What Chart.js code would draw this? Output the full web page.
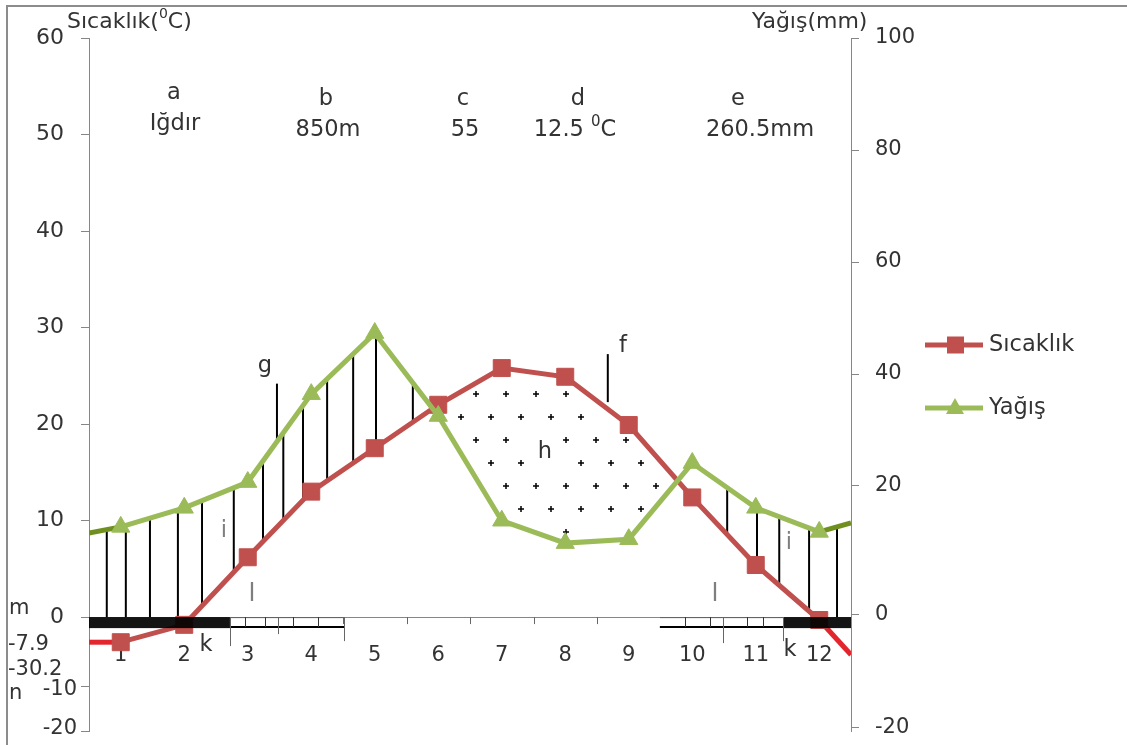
<!DOCTYPE html>
<html>
<head>
<meta charset="utf-8">
<script src="https://cdn.jsdelivr.net/npm/chart.js@4"></script>
<style>
  body { margin: 0; background: #fff; }
  #kutu { width: 1127px; height: 745px; }
</style>
</head>
<body>
<div id="kutu"><canvas id="iklim" width="1127" height="745"></canvas></div>
<script>
const aylar = [1, 2, 3, 4, 5, 6, 7, 8, 9, 10, 11, 12];
const sicaklik = [-2.6, -0.8, 6.2, 13.0, 17.5, 22.0, 25.8, 24.9, 19.9, 12.4, 5.4, -0.3];
const yagis = [12.7, 16.1, 20.7, 36.4, 47.3, 32.5, 13.8, 9.8, 10.5, 24.1, 16.1, 11.8];
// where the two lines leave the plot at the left and right border
const sicaklikKenar = [-2.6, -3.9];
const yagisKenar = [11.6, 13.4];

// axis ticks (the lower ones are placed where the picture shows them)
const solTicks = [60, 50, 40, 30, 20, 10, 0, -7.2, -11.8];
const solEtiket = ['60', '50', '40', '30', '20', '10', '0', '', ''];
const sagTicks = [100, 80, 60, 40, 20, -3, -23.2];
const sagEtiket = ['100', '80', '60', '40', '20', '0', '-20'];

const yaziFont = "'DejaVu Sans', sans-serif";
const yaziRenk = '#333333';
const eksenRenk = '#868686';
const kirmizi = '#c0504d';
const yesil = '#9bbb59';

// decoration positions, in month units
const taramalar = [0.78, 1.08, 1.46, 1.90, 2.28, 2.78, 3.24, 3.56, 3.87, 4.25, 4.66, 5.02, 5.60,
                   10.55, 11.02, 11.37, 11.84, 12.28];
const karaBant = [[0.5, 2.72], [11.43, 12.5]];
const acikBant = [[2.72, 4.52], [9.49, 11.43]];
const bantCizgi = [2.96, 3.27, 3.48, 3.71, 4.11, 9.89, 10.28, 10.86, 11.11];
const uzunCizgi = [[2.72, 29], [3.48, 17], [4.52, 24], [10.48, 26], [11.43, 24]];

function noktalar(degerler, kenar) {
    const p = [{ x: 0.5, y: kenar[0] }];
    aylar.forEach((m, i) => p.push({ x: m, y: degerler[i] }));
    p.push({ x: 12.5, y: kenar[1] });
    return p;
}

function egri(liste, m) {
    for (let i = 0; i < liste.length - 1; i++) {
        const a = liste[i], b = liste[i + 1];
        if (m >= a.x && m <= b.x) return a.y + (b.y - a.y) * (m - a.x) / (b.x - a.x);
    }
    return liste[liste.length - 1].y;
}

function yaz(c, parcalar, x, y, hiza) {
    // parcalar: [text, size, raise]
    let w = 0;
    parcalar.forEach(p => { c.font = p[1] + 'px ' + yaziFont; w += c.measureText(p[0]).width; });
    let bas = hiza === 'center' ? x - w / 2 : (hiza === 'right' ? x - w : x);
    c.textAlign = 'left';
    c.textBaseline = 'middle';
    parcalar.forEach(p => {
        c.font = p[1] + 'px ' + yaziFont;
        c.fillText(p[0], bas, y - p[2]);
        bas += c.measureText(p[0]).width;
    });
}

const sP = noktalar(sicaklik, sicaklikKenar);
const yP = noktalar(yagis, yagisKenar);

const diyagram = {
    id: 'diyagram',
    beforeDraw(chart) {
        const c = chart.ctx;
        c.save();
        c.fillStyle = '#fff';
        c.fillRect(0, 0, chart.width, chart.height);
        c.strokeStyle = '#8c8c8c';
        c.lineWidth = 2;
        c.strokeRect(7, 6, chart.width, chart.height);
        c.restore();
    },
    beforeDatasetsDraw(chart) {
        const c = chart.ctx;
        const { x, y, y1 } = chart.scales;
        const sPix = m => y.getPixelForValue(egri(sP, m));
        const yPix = m => y1.getPixelForValue(egri(yP, m));
        const sifir = y.getPixelForValue(0);
        c.save();
        c.strokeStyle = '#000';
        c.lineWidth = 2;
        taramalar.forEach(m => {
            const px = x.getPixelForValue(m);
            const ust = yPix(m), alt = Math.min(sPix(m), sifir);
            if (alt > ust) {
                c.beginPath(); c.moveTo(px, ust); c.lineTo(px, alt); c.stroke();
            }
        });
        // leader lines for g and f
        let px = x.getPixelForValue(3.46), py = yPix(3.46);
        c.beginPath(); c.moveTo(px, py); c.lineTo(px, py - 58); c.stroke();
        px = x.getPixelForValue(8.67); py = sPix(8.67);
        c.beginPath(); c.moveTo(px, py - 7); c.lineTo(px, py - 55); c.stroke();

        // dotted dry period
        c.lineWidth = 1.5;
        for (let k = 0; k < 7; k++) {
            const dy = 394 + k * 23;
            for (let dx = 446 + (k % 2) * 15; dx < 690; dx += 30) {
                const m = x.getValueForPixel(dx);
                if (sPix(m) + 11 < dy && dy < yPix(m) - 11) {
                    if (Math.abs(dx - 545) < 16 && Math.abs(dy - 452) < 14) continue;
                    c.beginPath();
                    c.moveTo(dx - 3, dy); c.lineTo(dx + 3, dy);
                    c.moveTo(dx, dy - 3); c.lineTo(dx, dy + 3);
                    c.stroke();
                }
            }
        }
        c.restore();
    },
    afterDatasetsDraw(chart) {
        const c = chart.ctx;
        const { x, y } = chart.scales;
        const sifir = y.getPixelForValue(0);
        c.save();
        // frost bands
        c.fillStyle = 'rgba(0,0,0,0.92)';
        karaBant.forEach(b => {
            const x0 = x.getPixelForValue(b[0]), x1 = x.getPixelForValue(b[1]);
            c.fillRect(x0, sifir, x1 - x0, 11);
        });
        acikBant.forEach(b => {
            const x0 = x.getPixelForValue(b[0]), x1 = x.getPixelForValue(b[1]);
            c.fillStyle = '#fff';
            c.fillRect(x0, sifir, x1 - x0, 10);
            c.strokeStyle = '#555'; c.lineWidth = 1;
            c.beginPath(); c.moveTo(x0, sifir + 0.5); c.lineTo(x1, sifir + 0.5); c.stroke();
            c.strokeStyle = '#000'; c.lineWidth = 2;
            c.beginPath(); c.moveTo(x0, sifir + 10); c.lineTo(x1, sifir + 10); c.stroke();
        });
        c.strokeStyle = '#333'; c.lineWidth = 1;
        bantCizgi.forEach(m => {
            const px = Math.round(x.getPixelForValue(m)) + 0.5;
            c.beginPath(); c.moveTo(px, sifir); c.lineTo(px, sifir + 10); c.stroke();
        });
        c.strokeStyle = '#666';
        uzunCizgi.forEach(u => {
            const px = Math.round(x.getPixelForValue(u[0])) + 0.5;
            c.beginPath(); c.moveTo(px, sifir); c.lineTo(px, sifir + u[1]); c.stroke();
        });
        [4.5, 5.5, 6.5, 7.5, 8.5].forEach(m => {
            const px = Math.round(x.getPixelForValue(m)) + 0.5;
            c.beginPath(); c.moveTo(px, sifir); c.lineTo(px, sifir + 7); c.stroke();
        });

        // texts
        c.fillStyle = yaziRenk;
        const buyuk = 22.5;
        yaz(c, [['Sıcaklık(', 22, 0], ['0', 14, 8], ['C)', 22, 0]], 67, 22, 'left');
        yaz(c, [['Yağış(mm)', 22, 0]], 752, 22, 'left');
        [['a', 174, 93], ['Iğdır', 175, 124], ['b', 326, 99], ['850m', 328, 130],
         ['c', 463, 99], ['55', 465, 130], ['d', 578, 99], ['e', 738, 99], ['260.5mm', 760, 130]]
            .forEach(t => yaz(c, [[t[0], buyuk, 0]], t[1], t[2], 'center'));
        yaz(c, [['12.5 ', buyuk, 0], ['0', 15, 8], ['C', buyuk, 0]], 575, 130, 'center');
        [['g', 265, 366], ['f', 623, 346], ['h', 545, 452], ['k', 206, 645], ['k', 790, 650]]
            .forEach(t => yaz(c, [[t[0], buyuk, 0]], t[1], t[2], 'center'));
        c.fillStyle = '#7f7f7f';
        [['i', 224, 531], ['i', 789, 543]].forEach(t => yaz(c, [[t[0], buyuk, 0]], t[1], t[2], 'center'));
        [['l', 252, 594], ['l', 715, 594]].forEach(t => yaz(c, [[t[0], 25, 0]], t[1], t[2], 'center'));
        c.fillStyle = yaziRenk;
        [['m', 9, 609], ['-7.9', 8, 645], ['-30.2', 8, 670], ['n', 9, 694]]
            .forEach(t => yaz(c, [[t[0], 21, 0]], t[1], t[2], 'left'));
        yaz(c, [['-10', 21, 0]], 77, y.getPixelForValue(solTicks[7]) + 3, 'right');
        yaz(c, [['-20', 21, 0]], 77, y.getPixelForValue(solTicks[8]) - 2, 'right');

        // legend
        const girdiler = [
            { ad: 'Sıcaklık', renk: kirmizi, sekil: 'kare', yy: 345 },
            { ad: 'Yağış', renk: yesil, sekil: 'ucgen', yy: 408 }
        ];
        girdiler.forEach(g => {
            c.strokeStyle = g.renk; c.lineWidth = 5;
            c.beginPath(); c.moveTo(925, g.yy); c.lineTo(983, g.yy); c.stroke();
            c.fillStyle = g.renk;
            if (g.sekil === 'kare') {
                c.fillRect(947, g.yy - 8.5, 17, 17);
            } else {
                c.beginPath();
                c.moveTo(955, g.yy - 10); c.lineTo(964, g.yy + 6); c.lineTo(946, g.yy + 6);
                c.closePath(); c.fill();
            }
            c.fillStyle = yaziRenk;
            yaz(c, [[g.ad, buyuk, 0]], 989, g.yy, 'left');
        });
        c.restore();
    }
};

const ctx = document.getElementById('iklim').getContext('2d');
new Chart(ctx, {
    type: 'line',
    data: {
        datasets: [{
            label: 'Yağış',
            data: yP,
            yAxisID: 'y1',
            order: 0,
            borderColor: yesil,
            backgroundColor: yesil,
            borderWidth: 5,
            pointStyle: 'triangle',
            pointRadius: c => (c.dataIndex === 0 || c.dataIndex === yP.length - 1) ? 0 : 10.5,
            pointBackgroundColor: yesil,
            pointBorderColor: yesil,
            pointBorderWidth: 1,
            segment: {
                borderColor: s => (s.p0DataIndex === 0 || s.p1DataIndex === yP.length - 1) ? '#6f8f1f' : yesil
            },
            tension: 0
        }, {
            label: 'Sıcaklık',
            data: sP,
            yAxisID: 'y',
            order: 1,
            borderColor: kirmizi,
            backgroundColor: kirmizi,
            borderWidth: 5,
            pointStyle: 'rect',
            pointRadius: c => (c.dataIndex === 0 || c.dataIndex === sP.length - 1) ? 0 : 12,
            pointBackgroundColor: kirmizi,
            pointBorderColor: kirmizi,
            pointBorderWidth: 1,
            segment: {
                borderColor: s => (s.p0DataIndex === 0 || s.p1DataIndex === sP.length - 1) ? '#e3262e' : kirmizi
            },
            tension: 0
        }]
    },
    options: {
        responsive: false,
        animation: false,
        layout: { padding: { left: 0, right: 0, top: 38, bottom: 14 } },
        plugins: { legend: { display: false }, tooltip: { enabled: false } },
        scales: {
            x: {
                type: 'linear',
                min: 0.5,
                max: 12.5,
                position: { y: 0 },
                afterBuildTicks: s => { s.ticks = aylar.map(v => ({ value: v })); },
                ticks: { color: yaziRenk, padding: 18, font: { family: yaziFont, size: 21 }, autoSkip: false, maxRotation: 0, callback: v => String(v) },
                grid: { display: false },
                border: { display: true, color: eksenRenk }
            },
            y: {
                position: 'left',
                min: -11.8,
                max: 60,
                afterBuildTicks: s => { s.ticks = solTicks.map(v => ({ value: v })); },
                afterFit: s => { s.width = 89; s.paddingTop = 0; s.paddingBottom = 0; },
                ticks: { color: yaziRenk, padding: 17, font: { family: yaziFont, size: 22 },
                         callback: v => solEtiket[solTicks.indexOf(v)] },
                grid: { drawOnChartArea: false, tickLength: 8, color: eksenRenk },
                border: { color: eksenRenk }
            },
            y1: {
                position: 'right',
                min: -23.75,
                max: 100,
                afterBuildTicks: s => { s.ticks = sagTicks.map(v => ({ value: v })); },
                afterFit: s => { s.width = 276; s.paddingTop = 0; s.paddingBottom = 0; },
                ticks: { color: yaziRenk, padding: 16, font: { family: yaziFont, size: 21 },
                         callback: v => sagEtiket[sagTicks.indexOf(v)] },
                grid: { drawOnChartArea: false, tickLength: 8, color: eksenRenk },
                border: { color: eksenRenk }
            }
        }
    },
    plugins: [diyagram]
});
</script>
</body>
</html>
